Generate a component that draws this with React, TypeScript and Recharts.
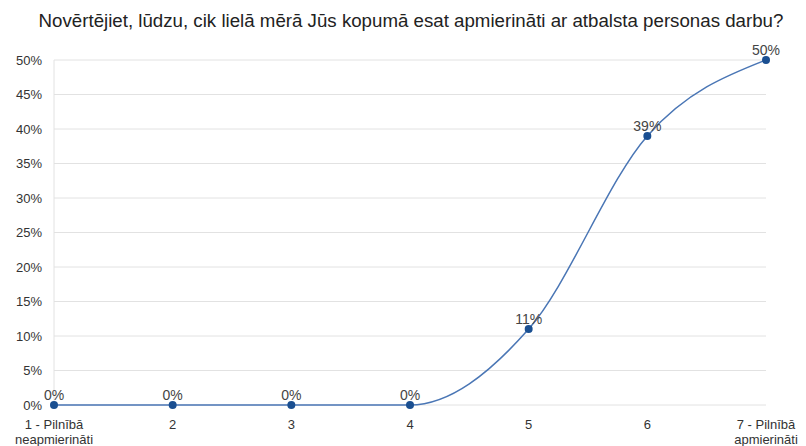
import { CartesianGrid, LabelList, Line, LineChart, XAxis, YAxis } from "recharts";

const TITLE =
  "Novērtējiet, lūdzu, cik lielā mērā Jūs kopumā esat apmierināti ar atbalsta personas darbu?";

const categories = [
  "1 - Pilnībā\nneapmierināti",
  "2",
  "3",
  "4",
  "5",
  "6",
  "7 - Pilnībā\napmierināti",
];
const shares = [0, 0, 0, 0, 11, 39, 50];
const yTicks = [0, 5, 10, 15, 20, 25, 30, 35, 40, 45, 50];

const FONT = "'Liberation Sans', Arial, sans-serif";

const data = categories.map((c, i) => ({ name: c, value: shares[i] }));

function MultiLineTick(props: any) {
  const { x, y, payload } = props;
  const lines = String(payload.value).split("\n");
  return (
    <text
      x={x}
      y={y}
      textAnchor="middle"
      fill="#333"
      fontSize={13}
      fontFamily={FONT}
    >
      {lines.map((l, i) => (
        <tspan key={i} x={x} dy={i === 0 ? 16 : 15}>
          {l}
        </tspan>
      ))}
    </text>
  );
}

export default function App() {
  return (
    <div
      style={{
        position: "absolute",
        top: 0,
        left: 0,
        width: 806,
        height: 446,
        background: "#fff",
        fontFamily: FONT,
      }}
    >
      <div
        style={{
          position: "absolute",
          top: 10,
          left: 0,
          width: 822,
          textAlign: "center",
          fontSize: 18.7,
          color: "#222",
        }}
      >
        {TITLE}
      </div>
      <LineChart
        width={806}
        height={446}
        data={data}
        margin={{ top: 60, right: 40, bottom: 0, left: 0 }}
      >
        <CartesianGrid vertical={false} stroke="#e2e2e2" />
        <XAxis
          dataKey="name"
          axisLine={false}
          tickLine={false}
          interval={0}
          tick={<MultiLineTick />}
          height={41}
        />
        <YAxis
          width={54}
          domain={[0, 50]}
          ticks={yTicks}
          tickFormatter={(v) => `${v}%`}
          tickLine={false}
          tickMargin={6}
          axisLine={{ stroke: "#e2e2e2" }}
          tick={{ fill: "#333", fontSize: 13, fontFamily: FONT }}
          interval={0}
        />
        <Line
          type="monotone"
          dataKey="value"
          stroke="#4a76b5"
          strokeWidth={1.5}
          dot={{ r: 4, fill: "#1a4f91", stroke: "none" }}
          isAnimationActive={false}
        >
          <LabelList
            dataKey="value"
            position="top"
            formatter={(v: any) => `${v}%`}
            fill="#444"
            fontSize={14}
            fontFamily={FONT}
          />
        </Line>
      </LineChart>
    </div>
  );
}
